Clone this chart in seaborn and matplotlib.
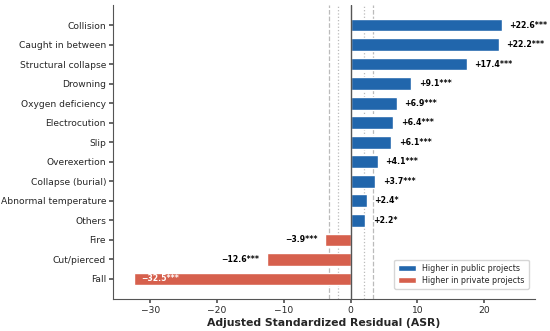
import matplotlib
matplotlib.use("Agg")
import matplotlib.pyplot as plt
import seaborn as sns
import pandas as pd

categories = ["Collision", "Caught in between", "Structural collapse", "Drowning",
              "Oxygen deficiency", "Electrocution", "Slip", "Overexertion",
              "Collapse (burial)", "Abnormal temperature", "Others", "Fire",
              "Cut/pierced", "Fall"]
asr = [22.6, 22.2, 17.4, 9.1, 6.9, 6.4, 6.1, 4.1, 3.7, 2.4, 2.2, -3.9, -12.6, -32.5]
sig = ["***", "***", "***", "***", "***", "***", "***", "***", "***", "*", "*", "***", "***", "***"]

BLUE = "#2166ac"
RED = "#d6604d"

sns.set_theme(style="white")
plt.rcParams['font.family'] = ['DejaVu Sans']

df = pd.DataFrame({"cat": categories, "asr": asr})
df["group"] = ["Higher in public projects" if v > 0 else "Higher in private projects" for v in asr]

fig = plt.figure(figsize=(5.5, 3.31), dpi=100)
ax = fig.add_axes([113 / 550, 32 / 331, 422 / 550, 294 / 331])

sns.barplot(data=df, y="cat", x="asr", hue="group", orient="h", dodge=False,
            palette={"Higher in public projects": BLUE, "Higher in private projects": RED},
            width=0.65, ax=ax, saturation=1)

ax.axvline(0, color="#555555", lw=1.0, zorder=1)
for v in (1.96, -1.96):
    ax.axvline(v, color="#bbbbbb", lw=0.9, ls=":", zorder=0)
for v in (3.29, -3.29):
    ax.axvline(v, color="#bbbbbb", lw=0.9, ls="--", zorder=0)

for i, (v, s) in enumerate(zip(asr, sig)):
    txt = f"{v:+.1f}{s}".replace("-", "\u2212")
    if v < -20:
        ax.text(v + 1.2, i, txt, va="center", ha="left", fontsize=5.6, fontweight="bold", color="white")
    elif v > 0:
        ax.text(v + 1.1, i, txt, va="center", ha="left", fontsize=5.6, fontweight="bold", color="black")
    else:
        ax.text(v - 1.1, i, txt, va="center", ha="right", fontsize=5.6, fontweight="bold", color="black")

ax.set_xlim(-35.6, 27.6)
ax.set_ylim(14.03, -1.03)
ax.set_xticks([-30, -20, -10, 0, 10, 20])
ax.set_xticklabels(["\u221230", "\u221220", "\u221210", "0", "10", "20"])
ax.set_xlabel("Adjusted Standardized Residual (ASR)", fontsize=7.8, fontweight="bold", labelpad=2)
ax.set_ylabel("")
ax.tick_params(axis="both", labelsize=6.6, length=3, pad=2, left=True, bottom=True, color="#555555")
sns.despine(ax=ax)
for sp in ("left", "bottom"):
    ax.spines[sp].set_color("#555555")
    ax.spines[sp].set_linewidth(0.8)

handles, labels = ax.get_legend_handles_labels()
order = [labels.index("Higher in public projects"), labels.index("Higher in private projects")]
ax.legend([handles[k] for k in order], [labels[k] for k in order], loc="lower right",
          fontsize=5.8, frameon=True, handlelength=2.2, borderpad=0.5, labelspacing=0.4,
          bbox_to_anchor=(0.995, 0.02))

fig.savefig("out.png", dpi=100)
